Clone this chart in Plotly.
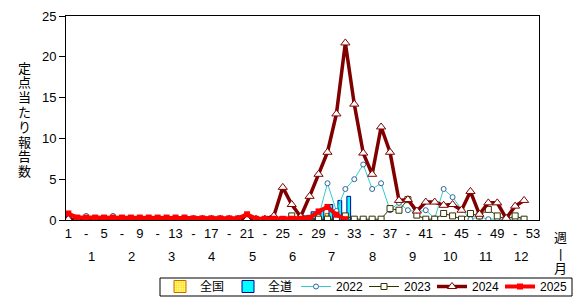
import plotly.graph_objects as go

weeks = list(range(1, 54))
x_tick_vals = list(range(1, 54, 2))
x_tick_text = [str(w) if i % 2 == 0 else "-" for i, w in enumerate(x_tick_vals)]
months = ["1", "2", "3", "4", "5", "6", "7", "8", "9", "10", "11", "12"]
month_pos = [3.6, 8.1, 12.6, 17.0, 21.6, 26.1, 30.5, 35.0, 39.5, 43.7, 47.7, 51.7]

# 全国 / 全道 weekly values (2025)
zenkoku = [0.02] * 25 + [0.1, 0.2, 0.3, 0.5, 0.8, 0.9, 0.6]
zendo = [0.0] * 25 + [0.2, 0.5, 1.0, 1.2, 1.9, 2.4, 2.9]

y2022 = [0.1, 0.1, 0.5, 0.1, 0.1, 0.5] + [0.1] * 19 + [
    0.4, 0.2, 0.2, 0.4, 4.5, 1.1, 3.8, 5.0, 6.8, 3.8, 4.5, 1.2, 2.1, 1.2, 1.0,
    1.2, 0.2, 3.8, 2.8, 1.3, 0.1, 0.4, 0.1, 0.1, 0.1, 0.1, 0.1]
y2023 = [0.05] * 25 + [
    0.5, 0.2, 0.2, 0.1, 0.1, 0.1, 0.5, 0.1, 0.1, 0.1, 0.1, 1.4, 1.2, 2.5, 0.6,
    0.1, 0.1, 0.8, 0.5, 0.1, 0.8, 0.5, 1.3, 0.5, 0.1, 0.5, 0.1]
y2024 = [0.1] * 23 + [
    0.5, 4.0, 1.9, 0.4, 2.9, 5.6, 8.3, 13.0, 21.7, 14.2, 8.2, 5.6, 11.4, 8.3,
    2.4, 2.5, 1.1, 2.2, 2.2, 1.8, 1.9, 1.2, 3.5, 0.7, 2.1, 2.1, 0.2, 1.7, 2.4]
y2025 = [0.8] + [0.3] * 13 + [0.2] * 6 + [0.7] + [0.15] * 6 + [0.25, 1.05, 1.6, 0.65, 0.1]

FONT = "Liberation Sans, Noto Sans CJK JP, sans-serif"
L, R, T, B = 66, 40, 16, 79
W, H = 579, 299
pw, ph = W - L - R, H - T - B


def px_x(x):
    return (x - L) / pw


def px_y(y):
    return (H - B - y) / ph


fig = go.Figure()
fig.add_trace(go.Bar(
    x=weeks[:len(zenkoku)], y=zenkoku, name="全国", width=0.42, offset=-0.25,
    marker=dict(color="#ffff66", line=dict(color="#cc6600", width=1),
                pattern=dict(shape=".", fgcolor="#ff9900", bgcolor="#ffff66", size=3, solidity=0.4))))
fig.add_trace(go.Bar(
    x=weeks[:len(zendo)], y=zendo, name="全道", width=0.42, offset=0.17,
    marker=dict(color="#00ffff", line=dict(color="#000099", width=1))))
fig.add_trace(go.Scatter(
    x=weeks[:len(y2022)], y=y2022, name="2022", mode="lines+markers",
    line=dict(color="#33cccc", width=1),
    marker=dict(symbol="circle", size=5, color="white", line=dict(color="#336699", width=1))))
fig.add_trace(go.Scatter(
    x=weeks[:len(y2023)], y=y2023, name="2023", mode="lines+markers",
    line=dict(color="#333300", width=1),
    marker=dict(symbol="square", size=6, color="white", line=dict(color="#333300", width=1))))
fig.add_trace(go.Scatter(
    x=weeks[:len(y2024)], y=y2024, name="2024", mode="lines+markers",
    line=dict(color="#800000", width=3.5),
    marker=dict(symbol="triangle-up", size=8, color="white", line=dict(color="#800000", width=1))))
fig.add_trace(go.Scatter(
    x=weeks[:len(y2025)], y=y2025, name="2025", mode="lines+markers",
    line=dict(color="#ff0000", width=4),
    marker=dict(symbol="square", size=6, color="#ff0000", line=dict(color="#ff0000", width=0))))

annotations = []
for m, p in zip(months, month_pos):
    annotations.append(dict(x=p, y=px_y(256), xref="x", yref="paper", text=m, showarrow=False,
                            font=dict(size=13, color="black", family=FONT), yanchor="middle"))
ytitle = "定点当たり報告数"
for i, ch in enumerate(ytitle):
    annotations.append(dict(x=px_x(24), y=px_y(68 + i * 14.8), xref="paper", yref="paper", text=ch,
                            showarrow=False, xanchor="center", yanchor="middle",
                            font=dict(size=13, color="black", family=FONT)))
for i, ch in enumerate(["週", "|", "月"]):
    annotations.append(dict(x=px_x(560), y=px_y(238 + i * 15), xref="paper", yref="paper", text=ch,
                            showarrow=False, xanchor="center", yanchor="middle",
                            font=dict(size=13, color="black", family=FONT)))

fig.update_layout(
    width=W, height=H, margin=dict(l=L, r=R, t=T, b=B, pad=0, autoexpand=False),
    paper_bgcolor="white", plot_bgcolor="white",
    font=dict(family=FONT, size=13, color="black"),
    barmode="overlay",
    showlegend=True,
    legend=dict(orientation="h", x=px_x(160), y=px_y(272), xanchor="left", yanchor="top",
                borderwidth=0, bgcolor="rgba(0,0,0,0)",
                font=dict(size=12, family=FONT), itemwidth=30,
                entrywidth=23, entrywidthmode="pixels", tracegroupgap=0),
    shapes=[dict(type="rect", xref="paper", yref="paper", x0=px_x(160), x1=px_x(572),
                 y0=px_y(278), y1=px_y(296), line=dict(color="black", width=1),
                 fillcolor="rgba(0,0,0,0)", layer="above")],
    annotations=annotations,
    xaxis=dict(range=[0.74, 53.67], tickvals=x_tick_vals, ticktext=x_tick_text, tickangle=0,
               showgrid=False, zeroline=False, showline=True, linecolor="black", linewidth=1,
               mirror=True, ticks="", tickfont=dict(size=13, family=FONT), ticklabelstandoff=1),
    yaxis=dict(range=[0, 25], tickvals=[0, 5, 10, 15, 20, 25], showgrid=False, zeroline=False,
               showline=True, linecolor="black", linewidth=1, mirror=True, ticks="outside",
               ticklen=6, tickcolor="black", tickfont=dict(size=13, family=FONT)),
)

fig.write_html("out.html")
